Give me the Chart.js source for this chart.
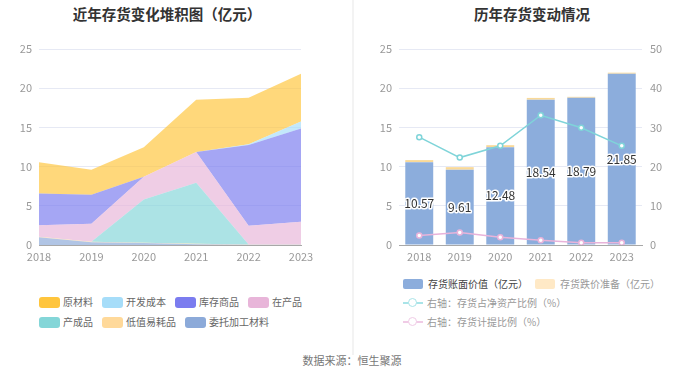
<!DOCTYPE html>
<html>
<head>
<meta charset="utf-8">
<script src="https://cdn.jsdelivr.net/npm/chart.js@4.4.1/dist/chart.umd.min.js"></script>
<style>
  html, body { margin:0; padding:0; background:#fff; }
  body { width:700px; height:378px; position:relative; overflow:hidden; font-family:"Noto Sans CJK SC","Noto Sans",sans-serif; }
  .abs { position:absolute; }
  .title { position:absolute; font-size:14.5px; font-weight:bold; color:#333; white-space:nowrap; transform:translate(-50%,-50%); line-height:1; }
  .divider { position:absolute; left:352px; top:0; width:2px; height:355px; background:#f3f3f3; }
  .row { position:absolute; display:flex; align-items:center; height:14px; transform:translateY(-50%); white-space:nowrap; }
  .item { display:flex; align-items:center; margin-right:9px; font-size:10px; color:#666; line-height:1; }
  .box { width:21px; height:11px; border-radius:3px; margin-right:3px; }
  .ritem { display:flex; align-items:center; margin-right:7px; font-size:10px; color:#999; line-height:1; }
  .rbox { width:20px; height:10px; border-radius:2px; margin-right:5px; }
  .licon { position:relative; width:20px; height:10px; margin-right:4px; }
  .licon .ln { position:absolute; left:0; top:4px; width:20px; height:1.5px; }
  .licon .pt { position:absolute; left:5px; top:0px; width:7px; height:7px; border-radius:50%; background:#fff; border:1.5px solid; }
  .footer { position:absolute; left:352px; top:360px; transform:translate(-50%,-50%); font-size:11px; color:#777; white-space:nowrap; line-height:1; }
</style>
</head>
<body>
<div class="title" style="left:167px; top:14px;">近年存货变化堆积图（亿元）</div>
<div class="title" style="left:532px; top:14px;">历年存货变动情况</div>
<canvas id="left" class="abs" width="352" height="270" style="left:0;top:0;"></canvas>
<canvas id="right" class="abs" width="346" height="270" style="left:354px;top:0;"></canvas>
<div class="divider"></div>
<div id="legendLeft"></div>
<div id="legendRight"></div>
<div class="footer">数据来源：恒生聚源</div>
<script>
// ---------- data ----------
const years = ['2018', '2019', '2020', '2021', '2022', '2023'];

// left: stacked inventory composition (亿元)
const rawMaterial   = [3.99, 3.20, 3.77, 6.67, 5.93, 6.10]; // 原材料
const devCost       = [0, 0, 0, 0, 0.10, 0.90];               // 开发成本
const goodsInStock  = [4.06, 3.71, 0, 0, 10.32, 11.90];       // 库存商品
const workInProcess = [1.47, 2.30, 2.90, 3.92, 2.37, 2.88];   // 在产品
const finishedGoods = [0, 0, 5.51, 7.80, 0, 0];               // 产成品
const lowValueItems = [0.05, 0.05, 0.05, 0.05, 0.05, 0.05];   // 低值易耗品
const consignedMat  = [1.00, 0.35, 0.25, 0.10, 0.02, 0.02];   // 委托加工材料

// right: book value, impairment, ratios
const bookValue      = [10.57, 9.61, 12.48, 18.54, 18.79, 21.85]; // 存货账面价值（亿元）
const impairment     = [0.26, 0.32, 0.25, 0.22, 0.11, 0.13];      // 存货跌价准备（亿元）
const ratioNetAssets = [27.5, 22.3, 25.3, 33.1, 29.9, 25.3];      // 存货占净资产比例（%）
const provisionRatio = [2.4, 3.2, 2.0, 1.2, 0.6, 0.6];            // 存货计提比例（%）

const leftTicks  = [0, 5, 10, 15, 20, 25];
const rightTicks = [0, 10, 20, 30, 40, 50];

// ---------- styling ----------
const FONT = '"Noto Sans CJK SC","Noto Sans",sans-serif';
const GRID = '#e6e9f4';
const AXIS = '#a8a8a8';
const TICK = '#999';

function hexA(hex, a) {
  const n = parseInt(hex.slice(1), 16);
  return `rgba(${(n>>16)&255},${(n>>8)&255},${n&255},${a})`;
}

// left series definitions, legend order
const leftSeries = [
  { name:'原材料',     data: rawMaterial,   color:'#ffc53d' },
  { name:'开发成本',   data: devCost,       color:'#a6ddf9' },
  { name:'库存商品',   data: goodsInStock,  color:'#7b7cef' },
  { name:'在产品',     data: workInProcess, color:'#e8b5d9' },
  { name:'产成品',     data: finishedGoods, color:'#84d6d8' },
  { name:'低值易耗品', data: lowValueItems, color:'#ffd99a' },
  { name:'委托加工材料', data: consignedMat, color:'#8caad9' }
];

// stacked bottom-up: reverse of legend order
const stackOrder = leftSeries.slice().reverse();
const leftDatasets = stackOrder.map((s, i) => ({
  label: s.name,
  data: s.data,
  fill: i === 0 ? 'origin' : '-1',
  backgroundColor: hexA(s.color, 0.68),
  borderColor: hexA(s.color, 0.0),
  borderWidth: 0,
  pointRadius: 0,
  pointHoverRadius: 0,
  tension: 0
}));

new Chart(document.getElementById('left'), {
  type: 'line',
  data: { labels: years, datasets: leftDatasets },
  options: {
    responsive: false,
    animation: false,
    layout: { padding: { left: 0, top: 49, right: 51, bottom: 0 } },
    plugins: { legend: { display: false }, tooltip: { enabled: false }, title: { display: false } },
    scales: {
      x: {
        offset: false,
        grid: { display: false, drawOnChartArea: false, drawTicks: true, tickLength: 4, tickColor: AXIS },
        border: { display: true, color: AXIS, width: 1 },
        ticks: { color: TICK, font: { family: FONT, size: 11 }, padding: 1, maxRotation: 0, autoSkip: false },
        afterFit: (s) => { s.height = 25; }
      },
      y: {
        stacked: true,
        min: 0, max: 25,
        afterBuildTicks: (s) => { s.ticks = leftTicks.map(v => ({ value: v })); },
        grid: { color: (c) => c.tick && c.tick.value === 0 ? 'rgba(0,0,0,0)' : GRID, drawTicks: false, lineWidth: 1 },
        border: { display: false },
        ticks: { color: TICK, font: { family: FONT, size: 11 }, padding: 7 },
        afterFit: (s) => { s.width = 39; }
      }
    }
  }
});

// ---------- right chart ----------
const valueLabels = {
  id: 'valueLabels',
  afterDatasetsDraw(chart) {
    const meta = chart.getDatasetMeta(0);
    const ctx = chart.ctx;
    ctx.save();
    ctx.font = '12px ' + FONT;
    ctx.textAlign = 'center';
    ctx.textBaseline = 'middle';
    ctx.lineJoin = 'round';
    meta.data.forEach((el, i) => {
      const y = (el.y + el.base) / 2;
      const txt = bookValue[i].toFixed(2);
      ctx.lineWidth = 3;
      ctx.strokeStyle = '#fff';
      ctx.strokeText(txt, el.x, y);
      ctx.fillStyle = '#333';
      ctx.fillText(txt, el.x, y);
    });
    ctx.restore();
  }
};

const BAR_BLUE = '#8caddc';
const BAR_ORANGE = '#f9d998';
const TEAL = '#7fd4d9';
const PINK = '#e8b3da';

new Chart(document.getElementById('right'), {
  type: 'bar',
  data: {
    labels: years,
    datasets: [
      { type:'bar', label:'存货账面价值（亿元）', data: bookValue, backgroundColor: BAR_BLUE, stack:'s', yAxisID:'y', order: 2, borderWidth: 0 },
      { type:'bar', label:'存货跌价准备（亿元）', data: impairment, backgroundColor: BAR_ORANGE, stack:'s', yAxisID:'y', order: 2, borderWidth: 0 },
      { type:'line', label:'右轴：存货占净资产比例（%）', data: ratioNetAssets, yAxisID:'y1', order: 0,
        borderColor: TEAL, borderWidth: 1.5, pointRadius: 2.5, pointBorderWidth: 1.5, pointBackgroundColor:'#fff', pointBorderColor: TEAL, tension: 0, fill: false },
      { type:'line', label:'右轴：存货计提比例（%）', data: provisionRatio, yAxisID:'y1', order: 0,
        borderColor: PINK, borderWidth: 1.5, pointRadius: 2.5, pointBorderWidth: 1.5, pointBackgroundColor:'#fff', pointBorderColor: PINK, tension: 0, fill: false }
    ]
  },
  options: {
    responsive: false,
    animation: false,
    layout: { padding: { left: 0, top: 49, right: 18, bottom: 0 } },
    plugins: { legend: { display: false }, tooltip: { enabled: false }, title: { display: false } },
    datasets: { bar: { categoryPercentage: 0.69, barPercentage: 1 } },
    scales: {
      x: {
        stacked: true,
        offset: true,
        grid: { display: false, drawTicks: false },
        border: { display: true, color: AXIS, width: 1 },
        ticks: { color: TICK, font: { family: FONT, size: 11 }, padding: 5, maxRotation: 0, autoSkip: false },
        afterFit: (s) => { s.height = 25; }
      },
      y: {
        stacked: true,
        position: 'left',
        min: 0, max: 25,
        afterBuildTicks: (s) => { s.ticks = leftTicks.map(v => ({ value: v })); },
        grid: { color: (c) => c.tick && c.tick.value === 0 ? 'rgba(0,0,0,0)' : GRID, drawTicks: false },
        border: { display: false },
        ticks: { color: TICK, font: { family: FONT, size: 11 }, padding: 7 },
        afterFit: (s) => { s.width = 45; }
      },
      y1: {
        position: 'right',
        min: 0, max: 50,
        afterBuildTicks: (s) => { s.ticks = rightTicks.map(v => ({ value: v })); },
        grid: { display: false, drawOnChartArea: false, drawTicks: false },
        border: { display: false },
        ticks: { color: TICK, font: { family: FONT, size: 11 }, padding: 8 },
        afterFit: (s) => { s.width = 40; }
      }
    }
  },
  plugins: [valueLabels]
});

// ---------- legends (HTML) ----------
function leftLegendRow(items, top) {
  const row = document.createElement('div');
  row.className = 'row';
  row.style.left = '39px';
  row.style.top = top + 'px';
  items.forEach(s => {
    const it = document.createElement('div');
    it.className = 'item';
    const b = document.createElement('div');
    b.className = 'box';
    b.style.background = s.color;
    const t = document.createElement('span');
    t.textContent = s.name;
    it.appendChild(b); it.appendChild(t);
    row.appendChild(it);
  });
  document.getElementById('legendLeft').appendChild(row);
}
leftLegendRow(leftSeries.slice(0, 4), 302);
leftLegendRow(leftSeries.slice(4), 322);

function rightLegend() {
  const host = document.getElementById('legendRight');
  // row 1: bars
  const r1 = document.createElement('div');
  r1.className = 'row'; r1.style.left = '403px'; r1.style.top = '284px';
  [['存货账面价值（亿元）', BAR_BLUE, '#444'], ['存货跌价准备（亿元）', '#ffe9c6', '#999']].forEach(([name, col, tc]) => {
    const it = document.createElement('div'); it.className = 'ritem'; it.style.color = tc;
    const b = document.createElement('div'); b.className = 'rbox'; b.style.background = col;
    const t = document.createElement('span'); t.textContent = name;
    it.appendChild(b); it.appendChild(t); r1.appendChild(it);
  });
  host.appendChild(r1);
  // rows 2, 3: lines
  [['右轴：存货占净资产比例（%）', '#a9e4e8', 303], ['右轴：存货计提比例（%）', '#f0cbe6', 322]].forEach(([name, col, top]) => {
    const r = document.createElement('div');
    r.className = 'row'; r.style.left = '403px'; r.style.top = top + 'px';
    const it = document.createElement('div'); it.className = 'ritem';
    const ic = document.createElement('div'); ic.className = 'licon';
    const ln = document.createElement('div'); ln.className = 'ln'; ln.style.background = col;
    const pt = document.createElement('div'); pt.className = 'pt'; pt.style.borderColor = col;
    ic.appendChild(ln); ic.appendChild(pt);
    const t = document.createElement('span'); t.textContent = name;
    it.appendChild(ic); it.appendChild(t); r.appendChild(it);
    host.appendChild(r);
  });
}
rightLegend();
</script>
</body>
</html>
